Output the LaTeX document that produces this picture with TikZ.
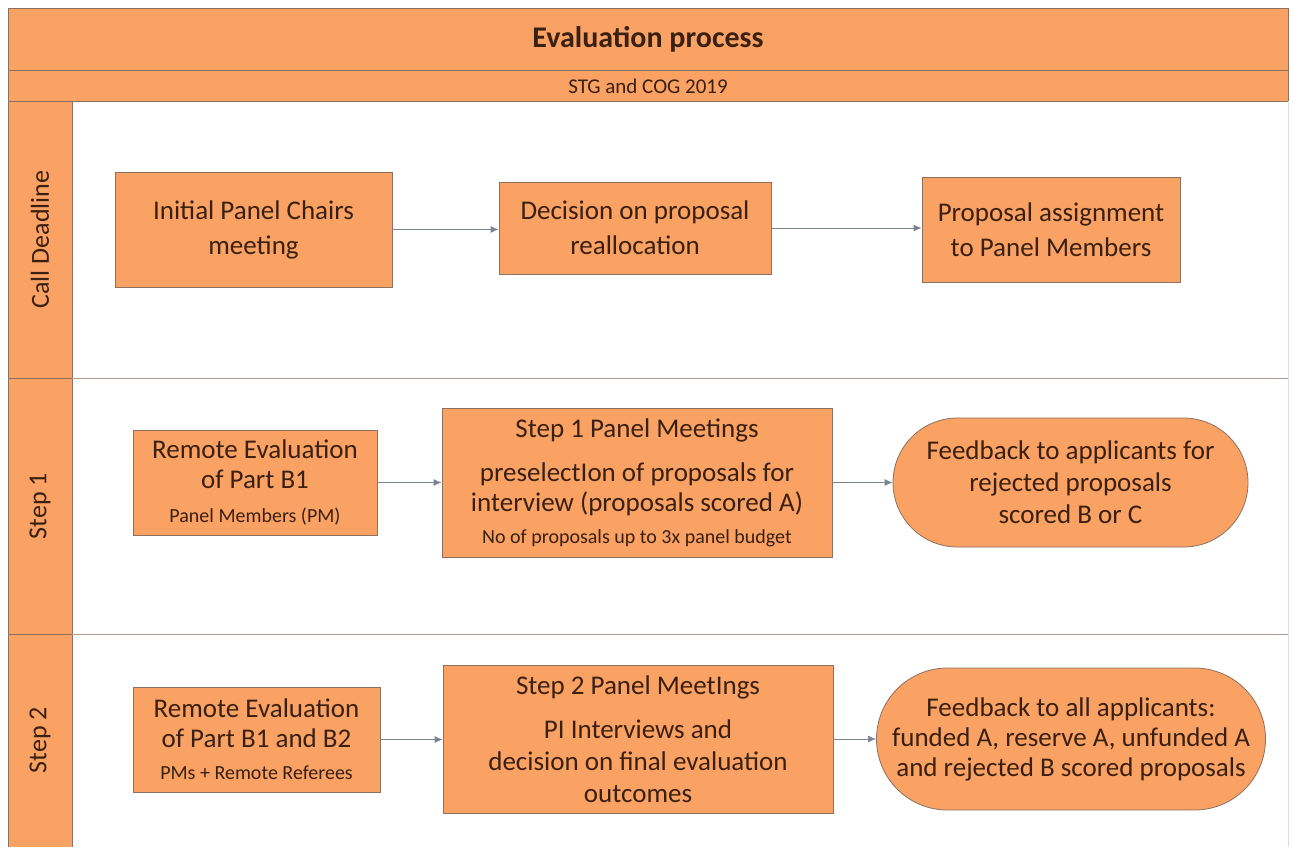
\documentclass[tikz,border=0pt]{standalone}
\usepackage{fontspec}
\setmainfont{Carlito}
\usetikzlibrary{arrows.meta}
\usetikzlibrary{shapes.misc}
\definecolor{boxorange}{HTML}{FAA164}
\definecolor{boxedge}{HTML}{8C7060}
\definecolor{inktext}{HTML}{3A2010}
\definecolor{flowgray}{HTML}{7A8590}
\tikzset{>={Latex[width=3.5pt,length=4pt]}}
\def\pxu{0.5pt}
\tikzset{
  band/.style={draw=boxedge, fill=boxorange},
  procbox/.style={draw=boxedge, fill=boxorange, text=inktext, align=center,
    inner sep=0pt, font=\fontsize{13.5}{16}\selectfont},
  endbox/.style={procbox, rounded rectangle},
  lanelabel/.style={rotate=90, text=inktext, font=\fontsize{13}{15}\selectfont},
  flow/.style={draw=flowgray, ->},
}
\newcommand{\smalltxt}[1]{{\fontsize{10}{12}\selectfont #1}}

\begin{document}
\begin{tikzpicture}[x=0.5pt, y=-0.5pt]

  \useasboundingbox (0,0) rectangle (1293,847);

  % header bands
  \draw[band] (8,8) rectangle (1288,70);
  \draw[band] (8,70) rectangle (1288,101);
  \node[text=inktext, font=\fontsize{15}{17}\selectfont\bfseries] (title) at (648,39) {Evaluation process};
  \node[text=inktext, font=\fontsize{10.5}{12}\selectfont] (subtitle) at (648,86) {STG and COG 2019};

  % swim lanes
  \draw[band] (8,101) rectangle (72,378);
  \draw[band] (8,378) rectangle (72,634);
  \fill[boxorange] (8,634) rectangle (72,847);
  \draw[draw=boxedge] (8,847) -- (8,634) -- (72,634) -- (72,847);
  \draw[draw=boxedge!70] (72,378) -- (1288,378);
  \draw[draw=boxedge!70] (72,634) -- (1288,634);
  \draw[draw=boxedge!25] (1288,101) -- (1288,847);

  \node[lanelabel] (lane0) at (40,239.5) {Call Deadline};
  \node[lanelabel] (lane1) at (40,506) {Step 1};
  \node[lanelabel] (lane2) at (40,740) {Step 2};

  % row: call deadline
  \node[procbox, minimum width=277*\pxu, minimum height=115*\pxu] (init) at (253.5,229.5)
    {Initial Panel Chairs\\[1.5pt] meeting};
  \node[procbox, minimum width=272*\pxu, minimum height=92*\pxu] (decis) at (635,228)
    {Decision on proposal\\[1.5pt] reallocation};
  \node[procbox, minimum width=258*\pxu, minimum height=105*\pxu] (assign) at (1051,229.5)
    {Proposal assignment\\[1.5pt] to Panel Members};

  % row: step 1
  \node[procbox, minimum width=244*\pxu, minimum height=105*\pxu] (rem1) at (255,482.5)
    {Remote Evaluation\\[-1pt] of Part B1\\[1pt] \smalltxt{Panel Members (PM)}};
  \node[procbox, minimum width=390*\pxu, minimum height=149*\pxu] (meet1) at (637,482.5)
    {Step 1 Panel Meetings\\[6pt] preselectIon of proposals for\\[-1pt] interview (proposals scored A)\\[0pt]
     \smalltxt{No of proposals up to 3x panel budget}};
  \node[endbox, minimum width=355*\pxu, minimum height=129*\pxu] (feed1) at (1070.5,482.5)
    {Feedback to applicants for\\ rejected proposals\\ scored B or C};

  % row: step 2
  \node[procbox, minimum width=247*\pxu, minimum height=105*\pxu] (rem2) at (256.5,739.5)
    {Remote Evaluation\\[-1pt] of Part B1 and B2\\[0pt] \smalltxt{PMs + Remote Referees}};
  \node[procbox, minimum width=390*\pxu, minimum height=148*\pxu] (meet2) at (638,739)
    {Step 2 Panel MeetIngs\\[6pt] PI Interviews and\\ decision on final evaluation\\ outcomes};
  \node[endbox, minimum width=389*\pxu, minimum height=142*\pxu] (feed2) at (1071,739)
    {Feedback to all applicants:\\[-1pt] funded A, reserve A, unfunded A\\[-1pt] and rejected B scored proposals};

  % connectors
  \draw[flow] (init.east) -- (init.east -| decis.west);
  \draw[flow] (decis.east) -- (decis.east -| assign.west);
  \draw[flow] (rem1.east) -- (meet1.west);
  \draw[flow] (meet1.east) -- (feed1.west);
  \draw[flow] (rem2.east) -- (rem2.east -| meet2.west);
  \draw[flow] (meet2.east) -- (feed2.west);

\end{tikzpicture}
\end{document}
